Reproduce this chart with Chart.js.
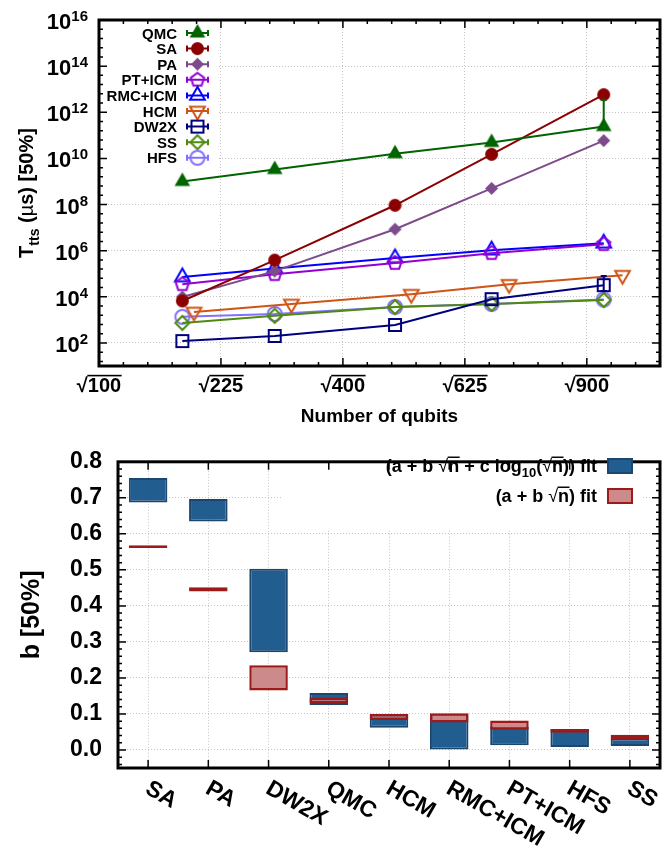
<!DOCTYPE html>
<html>
<head>
<meta charset="utf-8">
<title>Time to solution and scaling coefficient b</title>
<script src="https://cdn.jsdelivr.net/npm/chart.js@4.4.1/dist/chart.umd.min.js"></script>
<style>
  html, body { margin: 0; padding: 0; background: #fff; }
  #page { position: relative; width: 671px; height: 849px; overflow: hidden; }
  canvas { position: absolute; left: 0; }
  #ttsChart { top: 0; }
  #bChart { top: 432px; }
</style>
</head>
<body>
<div id="page">
  <canvas id="ttsChart" width="671" height="432"></canvas>
  <canvas id="bChart" width="671" height="417"></canvas>
</div>
<script>
// ---- top panel: T_tts [50%] vs number of qubits ----
const qubits = [180, 296, 490, 681, 942];
const qubitsHCM = [193, 320, 520, 719, 990];

const ttsQMC = [1.0e9, 3.3e9, 1.6e10, 4.9e10, 2.4e11];
const ttsSA = [6.6e3, 3.9e5, 9.3e7, 1.5e10, 5.8e12];
const ttsPA = [9.8e3, 1.3e5, 8.5e6, 5.0e8, 5.9e10];
const ttsPTICM = [3.5e4, 9.5e4, 2.9e5, 7.8e5, 1.9e6];
const ttsRMCICM = [7.2e4, 1.7e5, 4.8e5, 1.05e6, 2.1e6];
const ttsHCM = [2.2e3, 4.9e3, 1.3e4, 3.5e4, 8.7e4];
const ttsDW2X = [1.2e2, 2.0e2, 6.0e2, 7.9e3, 3.2e4];
const ttsSS = [7.4e2, 1.5e3, 3.6e3, 4.9e3, 7.2e3];
const ttsHFS = [1.35e3, 1.8e3, 3.6e3, 4.9e3, 7.6e3];

// only the error bars that stick out of the markers
const errQMCHigh = [null, null, null, null, 3.5e12];
const errDW2XLow = [null, null, null, null, 1.8e4];
const errDW2XHigh = [null, null, null, null, 8.0e4];

const qubitTicks = [100, 225, 400, 625, 900];
const ttsTickExps = [2, 4, 6, 8, 10, 12, 14, 16];

// ---- bottom panel: b [50%] per method ----
const methods = ["SA", "PA", "DW2X", "QMC", "HCM", "RMC+ICM", "PT+ICM", "HFS", "SS"];
const bLogFitLow = [0.687, 0.634, 0.271, 0.125, 0.062, 0.000, 0.013, 0.008, 0.011];
const bLogFitHigh = [0.755, 0.697, 0.503, 0.158, 0.100, 0.100, 0.065, 0.058, 0.032];
const bSqrtFitLow = [0.561, 0.440, 0.165, 0.130, 0.083, 0.076, 0.056, 0.048, 0.029];
const bSqrtFitHigh = [0.568, 0.452, 0.235, 0.146, 0.100, 0.102, 0.082, 0.058, 0.042];
const bTicks = [0.0, 0.1, 0.2, 0.3, 0.4, 0.5, 0.6, 0.7, 0.8];

const FONT = '"Liberation Sans", Arial, Helvetica, sans-serif';
function font(size, weight) { return (weight || "bold") + " " + size + "px " + FONT; }

/* marker glyphs (gnuplot style), used both on the plot and in the key */
function makeMarker(shape, r, color, filled) {
    const s = Math.ceil(2 * r + 6);
    const c = document.createElement("canvas");
    c.width = s; c.height = s;
    const g = c.getContext("2d");
    const m = s / 2;
    g.beginPath();
    if (shape === "circle") {
        g.arc(m, m, r, 0, Math.PI * 2);
    } else if (shape === "triangle" || shape === "invtriangle") {
        const k = shape === "triangle" ? 1 : -1;
        g.moveTo(m, m - k * r);
        g.lineTo(m + r * 0.866, m + k * r * 0.5);
        g.lineTo(m - r * 0.866, m + k * r * 0.5);
        g.closePath();
    } else if (shape === "diamond") {
        g.moveTo(m, m - r); g.lineTo(m + r, m); g.lineTo(m, m + r); g.lineTo(m - r, m);
        g.closePath();
    } else if (shape === "square") {
        g.rect(m - r, m - r, 2 * r, 2 * r);
    } else if (shape === "pentagon") {
        for (let i = 0; i < 5; i++) {
            const a = -Math.PI / 2 + i * 2 * Math.PI / 5;
            const px = m + r * Math.cos(a), py = m + r * Math.sin(a);
            if (i === 0) g.moveTo(px, py); else g.lineTo(px, py);
        }
        g.closePath();
    }
    if (filled) {
        g.fillStyle = color; g.fill();
    } else {
        g.strokeStyle = color; g.lineWidth = 2; g.stroke();
    }
    return c;
}

const series = [
    { label: "QMC", n: qubits, v: ttsQMC, color: "#006400", shape: "triangle", r: 9, filled: true, errHigh: errQMCHigh },
    { label: "SA", n: qubits, v: ttsSA, color: "#8b0000", shape: "circle", r: 6.5, filled: true },
    { label: "PA", n: qubits, v: ttsPA, color: "#7d4a8b", shape: "diamond", r: 6.5, filled: true },
    { label: "PT+ICM", n: qubits, v: ttsPTICM, color: "#9400d3", shape: "pentagon", r: 7, filled: false },
    { label: "RMC+ICM", n: qubits, v: ttsRMCICM, color: "#0000ff", shape: "triangle", r: 8.5, filled: false },
    { label: "HCM", n: qubitsHCM, v: ttsHCM, color: "#cf5416", shape: "invtriangle", r: 8.5, filled: false },
    { label: "DW2X", n: qubits, v: ttsDW2X, color: "#00007f", shape: "square", r: 6, filled: false, errLow: errDW2XLow, errHigh: errDW2XHigh },
    { label: "SS", n: qubits, v: ttsSS, color: "#4f8a10", shape: "diamond", r: 7, filled: false },
    { label: "HFS", n: qubits, v: ttsHFS, color: "#8470ff", shape: "circle", r: 7, filled: false }
];
series.forEach(s => { s.img = makeMarker(s.shape, s.r, s.color, s.filled); });

function drawRich(ctx, parts, x, y, size, align) {
    const fontOf = p => font(p.sub ? Math.round(size * 0.72) : size, p.light ? "normal" : "bold");
    const widths = parts.map(p => { ctx.font = fontOf(p); return ctx.measureText(p.t).width; });
    const total = widths.reduce((a, b) => a + b, 0);
    let cx = align === "right" ? x - total : align === "center" ? x - total / 2 : x;
    ctx.textAlign = "left";
    ctx.textBaseline = "alphabetic";
    parts.forEach((p, i) => {
        ctx.font = fontOf(p);
        ctx.fillText(p.t, cx, y + (p.sub ? size * 0.3 : 0));
        if (p.over) ctx.fillRect(cx - 0.5, y - size * 0.86, widths[i] + 1, Math.max(1.2, size * 0.08));
        cx += widths[i];
    });
}

function drawTicks(ctx, area, xMajor, xMinor, yMajor, yMinor) {
    ctx.save();
    ctx.strokeStyle = "#000";
    ctx.lineWidth = 1.5;
    ctx.beginPath();
    const seg = (x1, y1, x2, y2) => { ctx.moveTo(x1, y1); ctx.lineTo(x2, y2); };
    xMajor.forEach(x => { seg(x, area.bottom, x, area.bottom - 8); seg(x, area.top, x, area.top + 8); });
    xMinor.forEach(x => { seg(x, area.bottom, x, area.bottom - 4); seg(x, area.top, x, area.top + 4); });
    yMajor.forEach(y => { seg(area.left, y, area.left + 8, y); seg(area.right, y, area.right - 8, y); });
    yMinor.forEach(y => { seg(area.left, y, area.left + 4, y); seg(area.right, y, area.right - 4, y); });
    ctx.stroke();
    ctx.lineWidth = 3;
    ctx.strokeRect(area.left, area.top, area.right - area.left, area.bottom - area.top);
    ctx.restore();
}

const gridStyle = { color: "#c4c4c4", lineWidth: 1, drawTicks: false };
const gridBorder = { display: false, dash: [1, 2] };

/* ---------- top chart ---------- */
const ttsDecor = {
    id: "ttsDecor",
    beforeDatasetsDraw(chart) {
        const { ctx, chartArea: a } = chart;
        ctx.save();
        ctx.fillStyle = "#fff";
        ctx.fillRect(a.left + 1, a.top + 1, 118, 150);   // key background hides grid
        ctx.restore();
    },
    afterDatasetsDraw(chart) {
        const { ctx, scales: { x, y } } = chart;
        ctx.save();
        ctx.lineWidth = 2;
        chart.data.datasets.forEach((ds, i) => {
            const s = series[i];
            if (!s.errHigh && !s.errLow) return;
            ctx.strokeStyle = s.color;
            s.n.forEach((n, j) => {
                const px = x.getPixelForValue(Math.sqrt(n));
                const lo = s.errLow && s.errLow[j] != null ? s.errLow[j] : s.v[j];
                const hi = s.errHigh && s.errHigh[j] != null ? s.errHigh[j] : s.v[j];
                if (lo === hi) return;
                const y1 = y.getPixelForValue(lo), y2 = y.getPixelForValue(hi);
                ctx.beginPath();
                ctx.moveTo(px, y1); ctx.lineTo(px, y2);
                ctx.moveTo(px - 3, y1); ctx.lineTo(px + 3, y1);
                ctx.moveTo(px - 3, y2); ctx.lineTo(px + 3, y2);
                ctx.stroke();
            });
        });
        ctx.restore();
    },
    afterDraw(chart) {
        const { ctx, chartArea: a, scales: { x, y } } = chart;
        const xMajor = qubitTicks.map(n => x.getPixelForValue(Math.sqrt(n)));
        const xMinor = [];
        for (let v = 11; v <= 33; v++) if (v % 5 !== 0) xMinor.push(x.getPixelForValue(v));
        const yMajor = ttsTickExps.map(e => y.getPixelForValue(Math.pow(10, e)));
        const yMinor = [];
        for (let k = 0; k < 38; k++) {
            const e = 1.2 + k * 0.4;
            if (e < 16 && Math.abs(e / 2 - Math.round(e / 2)) > 0.01) yMinor.push(y.getPixelForValue(Math.pow(10, e)));
        }
        drawTicks(ctx, a, xMajor, xMinor, yMajor, yMinor);

        ctx.save();
        ctx.fillStyle = "#000";
        // y tick labels 10^k
        ctx.textBaseline = "alphabetic";
        ctx.textAlign = "right";
        ttsTickExps.forEach(e => {
            const py = y.getPixelForValue(Math.pow(10, e));
            ctx.font = font(15);
            const we = ctx.measureText(String(e)).width;
            ctx.fillText(String(e), 88, py + 1);
            ctx.font = font(22);
            ctx.fillText("10", 88 - we, py + 9);
        });
        // x tick labels sqrt(n)
        qubitTicks.forEach((n, i) => {
            drawRich(ctx, [{ t: "\u221A" }, { t: String(n), over: true }], xMajor[i], 392, 20, "center");
        });
        // axis titles
        ctx.font = font(19);
        ctx.textAlign = "center";
        ctx.fillText("Number of qubits", (a.left + a.right) / 2, 422);
        ctx.save();
        ctx.translate(33, (a.top + a.bottom) / 2);
        ctx.rotate(-Math.PI / 2);
        drawRich(ctx, [{ t: "T" }, { t: "tts", sub: true }, { t: " (" }, { t: "\u00B5", light: true }, { t: "s) [50%]" }], 0, 0, 20, "center");
        ctx.restore();

        // key
        series.forEach((s, i) => {
            const ry = 33 + i * 15.6;
            ctx.font = font(15);
            ctx.textAlign = "right";
            ctx.fillText(s.label, 177, ry + 5.5);
            ctx.strokeStyle = s.color;
            ctx.lineWidth = 2;
            ctx.beginPath();
            ctx.moveTo(187, ry); ctx.lineTo(208, ry);
            ctx.moveTo(187, ry - 3); ctx.lineTo(187, ry + 3);
            ctx.moveTo(208, ry - 3); ctx.lineTo(208, ry + 3);
            ctx.stroke();
            ctx.drawImage(s.img, 197.5 - s.img.width / 2, ry - s.img.height / 2);
        });
        ctx.restore();
    }
};

new Chart(document.getElementById("ttsChart"), {
    type: "line",
    data: {
        datasets: series.map(s => ({
            label: s.label,
            data: s.n.map((n, j) => ({ x: Math.sqrt(n), y: s.v[j] })),
            borderColor: s.color,
            backgroundColor: s.color,
            borderWidth: 2,
            pointStyle: s.img,
            pointRadius: s.r,
            tension: 0,
            fill: false
        }))
    },
    options: {
        responsive: false,
        animation: false,
        events: [],
        layout: { padding: { top: 20, right: 9, left: 0, bottom: 0 } },
        plugins: { legend: { display: false }, tooltip: { enabled: false } },
        scales: {
            x: {
                type: "linear", min: 10, max: 33,
                afterBuildTicks: ax => { ax.ticks = qubitTicks.map(n => ({ value: Math.sqrt(n) })); },
                afterFit: sc => { sc.height = 66; },
                ticks: { display: false },
                grid: gridStyle, border: gridBorder
            },
            y: {
                type: "logarithmic", min: 10, max: 1e16,
                afterBuildTicks: ax => { ax.ticks = ttsTickExps.map(e => ({ value: Math.pow(10, e) })); },
                afterFit: sc => { sc.width = 99; },
                ticks: { display: false },
                grid: gridStyle, border: gridBorder
            }
        }
    },
    plugins: [ttsDecor]
});

/* ---------- bottom chart ---------- */
const blue = { fill: "#225d90", edge: "#1a4670" };
const red = { fill: "#cd8a8a", edge: "#9c1a1a" };

const bDecor = {
    id: "bDecor",
    beforeDatasetsDraw(chart) {
        const { ctx, chartArea: a } = chart;
        ctx.save();
        ctx.fillStyle = "#fff";
        ctx.fillRect(282, a.top + 1, 361, 66);   // key background
        ctx.restore();
    },
    afterDraw(chart) {
        const { ctx, chartArea: a, scales: { x, y } } = chart;
        const xMajor = methods.map((m, i) => x.getPixelForValue(i));
        const yMajor = bTicks.map(v => y.getPixelForValue(v));
        const yMinor = [];
        for (let k = -2; k < 40; k++) if (k % 5 !== 0) yMinor.push(y.getPixelForValue(k * 0.02));
        drawTicks(ctx, a, xMajor, [], yMajor, yMinor);

        ctx.save();
        ctx.fillStyle = "#000";
        // rotated category labels
        ctx.font = font(23);
        ctx.textAlign = "left";
        ctx.textBaseline = "middle";
        methods.forEach((m, i) => {
            ctx.save();
            ctx.translate(xMajor[i] - 1, 355);
            ctx.rotate(Math.PI / 6);
            ctx.fillText(m, 0, 0);
            ctx.restore();
        });
        // y title
        ctx.save();
        ctx.translate(39, (a.top + a.bottom) / 2);
        ctx.rotate(-Math.PI / 2);
        ctx.font = font(25);
        ctx.textAlign = "center";
        ctx.textBaseline = "alphabetic";
        ctx.fillText("b [50%]", 0, 0);
        ctx.restore();

        // key
        const keyRows = [
            { parts: [{ t: "(a + b " }, { t: "\u221A", light: true }, { t: "n", over: true }, { t: " + c log" }, { t: "10", sub: true }, { t: "(" }, { t: "\u221A", light: true }, { t: "n", over: true }, { t: ")) fit" }], c: blue, cy: 34 },
            { parts: [{ t: "(a + b " }, { t: "\u221A", light: true }, { t: "n", over: true }, { t: ") fit" }], c: red, cy: 64 }
        ];
        keyRows.forEach(r => {
            ctx.fillStyle = "#000";
            drawRich(ctx, r.parts, 597, r.cy + 6, 18, "right");
            ctx.fillStyle = r.c.fill;
            ctx.fillRect(607, r.cy - 8, 26, 16);
            ctx.strokeStyle = r.c.edge;
            ctx.lineWidth = 2;
            ctx.strokeRect(608, r.cy - 7, 24, 14);
        });
        ctx.restore();
    }
};

new Chart(document.getElementById("bChart"), {
    type: "bar",
    data: {
        labels: methods,
        datasets: [
            {
                label: "(a + b \u221An + c log10(\u221An)) fit",
                data: methods.map((m, i) => [bLogFitLow[i], bLogFitHigh[i]]),
                backgroundColor: blue.fill, borderColor: blue.edge,
                borderWidth: 2, borderSkipped: false, grouped: false, order: 1
            },
            {
                label: "(a + b \u221An) fit",
                data: methods.map((m, i) => [bSqrtFitLow[i], bSqrtFitHigh[i]]),
                backgroundColor: red.fill, borderColor: red.edge,
                borderWidth: 2.5, borderSkipped: false, grouped: false, order: 0
            }
        ]
    },
    options: {
        responsive: false,
        animation: false,
        events: [],
        barPercentage: 0.64,
        categoryPercentage: 1,
        layout: { padding: { top: 13, right: 11, left: 0, bottom: 0 } },
        plugins: { legend: { display: false }, tooltip: { enabled: false } },
        scales: {
            x: {
                type: "category",
                afterFit: sc => { sc.height = 81; },
                ticks: { display: false },
                grid: Object.assign({ offset: false }, gridStyle), border: gridBorder
            },
            y: {
                min: -0.05, max: 0.8,
                afterBuildTicks: ax => { ax.ticks = bTicks.map(v => ({ value: v })); },
                afterFit: sc => { sc.width = 118; },
                ticks: {
                    padding: 16, color: "#000",
                    font: { family: FONT, size: 23, weight: "bold" },
                    callback: v => Number(v).toFixed(1)
                },
                grid: gridStyle, border: gridBorder
            }
        }
    },
    plugins: [bDecor]
});
</script>
</body>
</html>
